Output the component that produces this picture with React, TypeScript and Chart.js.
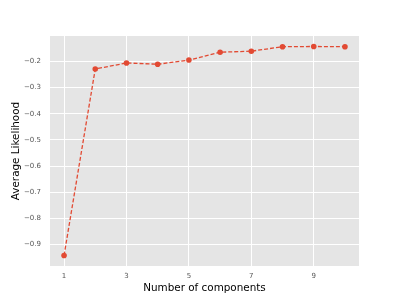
import React, { useEffect, useRef } from "react";
import { Chart, registerables } from "chart.js";

Chart.register(...registerables);

const components = [1, 2, 3, 4, 5, 6, 7, 8, 9, 10];
const avgLikelihood = [-0.942, -0.229, -0.206, -0.211, -0.195, -0.165, -0.161, -0.144, -0.143, -0.144];
const xTickValues = [1, 3, 5, 7, 9];
const yTickValues = [-0.9, -0.8, -0.7, -0.6, -0.5, -0.4, -0.3, -0.2];

const FONT = "'DejaVu Sans', sans-serif";

export default function App() {
  const ref = useRef<HTMLCanvasElement | null>(null);

  useEffect(() => {
    document.body.style.margin = "0";
    const canvas = ref.current;
    if (!canvas) return;
    const chart = new Chart(canvas, {
      type: "line",
      data: {
        datasets: [
          {
            data: components.map((c, i) => ({ x: c, y: avgLikelihood[i] })),
            borderColor: "#E24A33",
            backgroundColor: "#E24A33",
            borderWidth: 1.3,
            borderDash: [4, 2],
            pointRadius: 2.8,
            pointBorderWidth: 0,
            pointBackgroundColor: "#E24A33",
            tension: 0,
          },
        ],
      },
      plugins: [
        {
          id: "bg",
          beforeDraw(c: any) {
            const { ctx, chartArea } = c;
            ctx.save();
            ctx.fillStyle = "#E5E5E5";
            ctx.fillRect(chartArea.left, chartArea.top, chartArea.right - chartArea.left, chartArea.bottom - chartArea.top);
            ctx.restore();
          },
        },
      ],
      options: {
        responsive: false,
        animation: false,
        devicePixelRatio: 1,
        layout: { padding: { left: 10, right: 40, top: 36, bottom: 4 } },
        plugins: { legend: { display: false }, tooltip: { enabled: false } },
        scales: {
          x: {
            type: "linear",
            min: 0.55,
            max: 10.45,
            afterBuildTicks(scale: any) {
              scale.ticks = xTickValues.map((v) => ({ value: v }));
            },
            afterFit(scale: any) {
              scale.height = 29;
            },
            ticks: {
              color: "#555555",
              font: { family: FONT, size: 7 },
              padding: 6,
              maxRotation: 0,
              callback: (v: any) => String(v),
            },
            grid: { color: "#FFFFFF", lineWidth: 1, drawTicks: false },
            border: { display: false },
            title: {
              display: true,
              text: "Number of components",
              color: "#000000",
              font: { family: FONT, size: 10.4 },
              padding: { top: 0, bottom: 0 },
            },
          },
          y: {
            type: "linear",
            min: -0.982,
            max: -0.103,
            afterBuildTicks(scale: any) {
              scale.ticks = yTickValues.map((v) => ({ value: v }));
            },
            afterFit(scale: any) {
              scale.width = 40;
            },
            ticks: {
              color: "#555555",
              font: { family: FONT, size: 7 },
              padding: 9,
              callback: (v: any) => (Number(v) < 0 ? "\u2212" : "") + Math.abs(Number(v)).toFixed(1),
            },
            grid: { color: "#FFFFFF", lineWidth: 1, drawTicks: false },
            border: { display: false },
            title: {
              display: true,
              text: "Average Likelihood",
              color: "#000000",
              font: { family: FONT, size: 10.4 },
              padding: { top: 0, bottom: 0 },
            },
          },
        },
      },
    } as any);
    return () => chart.destroy();
  }, []);

  return (
    <div style={{ width: 399, height: 299, background: "#FFFFFF" }}>
      <canvas ref={ref} width={399} height={299} style={{ width: 399, height: 299, display: "block" }} />
    </div>
  );
}
